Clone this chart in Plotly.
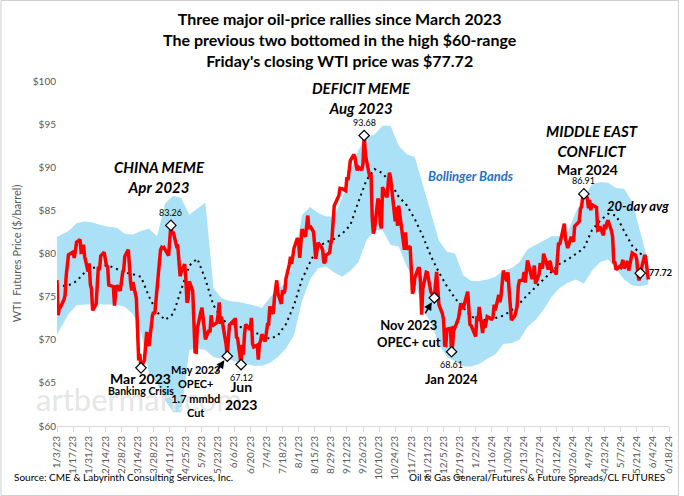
import pandas as pd
import plotly.graph_objects as go

# WTI front-month settlements ($/bbl), one line per month, Jan 2023 - May 2024
wti_close = [
    76.93, 72.84, 73.67, 73.77, 74.63, 75.12, 77.41, 78.39, 79.86, 80.18, 79.48, 80.33, 81.31, 81.62, 80.13, 80.15, 81.01, 79.68, 77.90, 78.87,
    76.41, 75.88, 73.39, 74.11, 77.14, 78.47, 78.06, 79.72, 80.14, 79.06, 78.59, 78.49, 76.34, 76.16, 73.95, 75.39, 76.32, 75.68, 77.05,
    77.69, 78.16, 79.68, 80.46, 77.58, 76.66, 75.72, 76.68, 74.80, 71.33, 67.61, 68.35, 66.74, 67.64, 69.33, 70.90, 69.96, 69.26, 72.81, 73.20, 72.97, 74.37, 75.67,
    80.42, 80.71, 80.61, 80.70, 79.74, 81.53, 83.26, 82.16, 82.52, 80.83, 80.86, 79.16, 77.37, 77.87, 78.76, 77.07, 74.30, 74.76, 76.78,
    75.66, 71.66, 68.60, 68.56, 71.34, 73.16, 73.71, 72.56, 70.87, 70.04, 71.11, 70.86, 72.83, 71.86, 71.69, 71.99, 72.91, 74.34, 71.83, 72.67, 69.46, 68.09,
    70.10, 71.74, 72.15, 71.74, 72.53, 70.29, 70.17, 67.12, 69.42, 68.27, 70.62, 71.78, 71.19, 72.53, 69.51, 69.16, 69.37, 67.70, 69.56, 69.86, 70.64,
    69.79, 71.79, 71.80, 73.86, 72.99, 74.83, 75.75, 76.89, 75.42, 74.15, 75.75, 75.35, 75.63, 77.07, 78.74, 79.63, 78.78, 80.09, 80.58, 81.80,
    81.37, 79.49, 81.55, 82.82, 81.94, 82.92, 84.40, 82.82, 83.19, 82.51, 80.99, 79.38, 80.39, 81.25, 80.72, 80.35, 78.89, 79.05, 79.83, 80.10, 81.16, 81.63, 83.63,
    85.55, 86.69, 87.54, 87.51, 87.51, 87.29, 88.84, 88.52, 90.16, 90.77, 91.48, 91.20, 90.28, 89.63, 90.03, 89.68, 90.39, 93.68, 91.71, 90.79,
    88.82, 89.23, 84.22, 82.31, 82.79, 86.38, 85.97, 83.49, 82.91, 87.69, 86.66, 86.66, 88.32, 89.37, 88.75, 85.49, 83.74, 85.39, 83.21, 85.54, 82.31, 81.02,
    80.44, 82.46, 80.51, 80.82, 77.37, 75.33, 75.74, 77.17, 78.26, 78.26, 76.66, 72.90, 75.89, 77.83, 77.77, 77.10, 75.54, 74.86, 76.41, 77.86, 75.96,
    74.07, 73.04, 72.32, 69.38, 69.34, 71.23, 71.32, 68.61, 69.47, 71.58, 71.43, 72.47, 73.44, 74.22, 73.89, 73.56, 75.57, 74.11, 71.77, 71.65,
    70.38, 72.70, 72.19, 73.81, 70.77, 72.24, 71.37, 72.02, 72.68, 72.40, 72.56, 74.08, 73.41, 75.19, 74.37, 75.09, 77.36, 78.01, 76.78, 77.82, 75.85,
    73.82, 72.28, 72.78, 73.31, 73.86, 76.22, 76.84, 76.92, 77.87, 76.64, 78.03, 79.19, 77.04, 77.91, 78.61, 76.49, 77.58, 78.87, 78.54, 78.26,
    79.97, 78.74, 78.15, 79.13, 78.93, 78.01, 77.93, 77.56, 79.72, 81.26, 81.04, 82.72, 83.47, 81.68, 81.07, 80.63, 81.95, 81.62, 81.35, 83.17,
    83.71, 85.15, 85.43, 86.59, 86.91, 86.43, 85.23, 86.21, 85.02, 85.66, 85.41, 85.36, 82.69, 82.73, 83.14, 82.10, 83.36, 82.81, 83.57, 83.85, 82.63, 81.93,
    79.00, 78.95, 78.11, 78.48, 78.38, 78.99, 79.26, 78.26, 79.12, 78.02, 78.63, 79.23, 80.06, 79.80, 79.26, 77.57, 76.87, 77.72, 79.83, 79.23, 77.91, 76.99,
]
exchange_holidays = ["2023-01-16", "2023-02-20", "2023-04-07", "2023-05-29", "2023-06-19",
                     "2023-07-04", "2023-09-04", "2023-11-23", "2023-12-25",
                     "2024-01-01", "2024-01-15", "2024-02-19", "2024-03-29", "2024-05-27"]

band_upper = [81.9, 82.6, 83.5, 83.7, 83.6, 83.3, 83.1, 83.0, 82.3, 82.2,
              82.6, 82.9, 82.0, 85.8, 86.7, 86.4, 84.5, 85.2, 85.9, 76.0,
              74.8, 74.5, 74.4, 74.2, 74.0, 73.7, 74.8, 76.0, 76.5, 79.0,
              84.5, 85.4, 84.7, 84.3, 84.3, 86.5, 89.5, 92.0, 93.5, 93.8,
              94.8, 94.8, 92.5, 91.5, 91.2, 88.0, 85.0, 81.5, 80.2, 80.0,
              77.5, 76.8, 76.8, 77.0, 77.3, 78.0, 78.3, 79.0, 80.5, 81.0,
              81.5, 82.0, 82.0, 82.5, 84.8, 86.5, 88.0, 88.3, 88.2, 87.6,
              87.5, 86.0, 82.5, 79.0]
band_lower = [70.6, 73.0, 74.0, 74.1, 74.1, 74.1, 74.1, 74.1, 73.8, 73.0,
              71.0, 66.0, 65.0, 63.0, 61.6, 61.6, 68.8, 69.0, 68.8, 68.0,
              67.8, 67.7, 67.4, 67.2, 67.0, 67.0, 67.3, 68.0, 69.0, 70.5,
              74.5, 77.0, 78.3, 78.5, 77.8, 77.3, 78.0, 79.0, 81.5, 82.7,
              82.7, 81.0, 80.8, 78.5, 77.0, 73.5, 72.0, 69.5, 68.0, 67.5,
              66.9, 66.9, 67.2, 67.8, 68.3, 69.5, 69.6, 70.0, 71.5, 72.3,
              73.5, 75.0, 76.0, 76.6, 77.0, 76.5, 78.0, 79.0, 79.3, 78.2,
              77.0, 76.3, 76.2, 76.4]
avg_20d = [76.2, 76.3, 76.8, 77.8, 78.3, 78.6, 78.6, 78.2, 77.8, 77.6,
           77.3, 75.0, 73.2, 72.3, 73.0, 75.8, 78.6, 79.4, 77.0, 74.0,
           72.5, 71.6, 71.5, 71.4, 70.9, 70.5, 70.1, 70.5, 71.8, 74.0,
           77.0, 79.0, 80.8, 81.3, 81.7, 82.3, 83.3, 86.0, 88.5, 89.8,
           89.3, 88.2, 86.6, 85.6, 84.0, 82.0, 79.7, 77.8, 76.2, 74.8,
           73.7, 72.7, 72.3, 72.3, 72.5, 72.8, 73.4, 74.2, 75.2, 76.1,
           77.0, 78.0, 78.8, 79.3, 80.0, 80.6, 82.7, 83.8, 84.6, 84.4,
           82.6, 80.9, 80.0, 79.5]

# dates marked with a diamond
callout_dates = ["2023-03-17", "2023-04-12", "2023-05-31", "2023-06-12", "2023-09-27",
                 "2023-11-27", "2023-12-12", "2024-04-05", "2024-05-24"]

trade_days = pd.bdate_range("2023-01-03", "2024-05-31", freq="C", holidays=exchange_holidays)
price = pd.Series(wti_close, index=trade_days)
week_dates = [pd.Timestamp("2023-01-03")] + list(pd.date_range("2023-01-13", "2024-05-31", freq="W-FRI"))
callouts = price.loc[pd.to_datetime(callout_dates)]

FONT = "Lato"
BAND = "#ABE1F7"

W, H = 684, 496
L, R, T, B = 57, 10, 81, 70
pw, ph = W - L - R, H - T - B

fig = go.Figure()
fig.add_trace(go.Scatter(x=week_dates, y=band_lower, mode="lines", line=dict(width=0),
                         hoverinfo="skip", showlegend=False))
fig.add_trace(go.Scatter(x=week_dates, y=band_upper, mode="lines", line=dict(width=0),
                         fill="tonexty", fillcolor=BAND, hoverinfo="skip", showlegend=False))
fig.add_trace(go.Scatter(x=week_dates, y=avg_20d, mode="lines",
                         line=dict(color="black", width=2, dash="2px,4px"), showlegend=False))
fig.add_trace(go.Scatter(x=price.index, y=price.values, mode="lines",
                         line=dict(color="#FF0000", width=3.5), showlegend=False))
fig.add_trace(go.Scatter(x=callouts.index, y=callouts.values, mode="markers",
                         marker=dict(symbol="diamond", size=8, color="white",
                                     line=dict(color="black", width=1.2)),
                         showlegend=False))


def note(x, y, text, size=13, color="black", **kw):
    fig.add_annotation(x=x, y=y, text=text, showarrow=False,
                       font=dict(family=FONT, size=size, color=color), **kw)


# faint watermark, drawn first so the labels sit on top
note("2023-03-15", 63.1, "artberman.com", size=31, color="#E6E6E6")

# title block, centred on the whole figure
note((W / 2 - L) / pw, (ph + T - 7) / ph,
     "<b>Three major oil-price rallies since March 2023<br>"
     "The previous two bottomed in the high $60-range<br>"
     "Friday's closing WTI price was $77.72</b>",
     size=16, xref="paper", yref="paper", yanchor="top")

note("2023-04-02", 88.9, "<b><i>CHINA MEME<br>Apr 2023</i></b>", size=15)
note("2023-09-25", 98.0, "<b><i>DEFICIT MEME<br>Aug 2023</i></b>", size=15)
note("2024-04-12", 93.0, "<b><i>MIDDLE EAST<br>CONFLICT</i></b>", size=15)
note("2024-04-08", 89.7, "<b>Mar 2024</b>", size=14)
note("2023-12-29", 89.0, "<b><i>Bollinger Bands</i></b>", size=13, color="#1F72C4")
note("2024-05-22", 85.5, "<b><i>20-day avg</i></b>", size=13)

note("2024-04-05", 88.5, "86.91", size=9)
note("2023-09-27", 95.2, "93.68", size=9)
note("2023-04-12", 84.8, "83.26", size=9)
note("2023-06-12", 65.6, "67.12", size=9)
note("2023-12-12", 67.1, "68.61", size=9)
note("2024-05-24", 77.8, "<b>77.72</b>", size=9, xanchor="left", xshift=7)

note("2023-03-17", 65.5, "<b>Mar 2023</b>", size=14)
note("2023-03-17", 64.1, "<b>Banking Crisis</b>", size=10.5)
note("2023-05-03", 64.05, "<b>May 2023<br>OPEC+<br>1.7 mmbd<br>Cut</b>", size=11)
note("2023-06-12", 63.5, "<b>Jun<br>2023</b>", size=14)
note("2023-11-05", 70.7, "<b>Nov 2023<br>OPEC+ cut</b>", size=13)
note("2023-12-12", 65.4, "<b>Jan 2024</b>", size=13)

# arrows to the OPEC+ cut points
for d, ax in [("2023-05-31", -12), ("2023-11-27", -10)]:
    fig.add_annotation(x=d, y=price.loc[d], ax=ax, ay=17, text="", showarrow=True,
                       arrowhead=2, arrowsize=1, arrowwidth=1.6, arrowcolor="black", standoff=5)

note(-0.073, -0.171, "Source: CME & Labyrinth Consulting Services, Inc.", size=10,
     xref="paper", yref="paper", xanchor="left")
note(0.997, -0.171, "Oil & Gas General/Futures & Future Spreads/CL FUTURES", size=10,
     xref="paper", yref="paper", xanchor="right")

fig.add_shape(type="rect", xref="paper", yref="paper",
              x0=(0.5 - L) / pw, x1=(W - 0.5 - L) / pw,
              y0=-(B - 0.5) / ph, y1=(ph + T - 0.5) / ph,
              line=dict(color="#D0D0D0", width=1))

fig.update_layout(
    width=W, height=H,
    margin=dict(l=L, r=R, t=T, b=B),
    paper_bgcolor="white", plot_bgcolor="white",
    font=dict(family=FONT, color="#595959"),
    xaxis=dict(range=["2023-01-03", "2024-06-18"], tick0="2023-01-03", dtick=14 * 86400000,
               tickformat="%-m/%-d/%y", tickangle=-90, tickfont=dict(size=10, color="#595959"),
               showline=True, linecolor="#D9D9D9", ticks="outside", tickcolor="#D9D9D9",
               ticklen=5, showgrid=False, zeroline=False),
    yaxis=dict(range=[60, 100], dtick=5, tickprefix="$", showgrid=False, zeroline=False,
               showline=False, tickfont=dict(size=10, color="#595959"),
               title=dict(text="WTI  Futures Price ($/barrel)", font=dict(size=11, color="#595959"),
                          standoff=8)),
)

# the page's default body margin would push the figure out of the window
fig.write_html("out.html", config={"displayModeBar": False},
               post_script="document.body.style.margin='0';")
